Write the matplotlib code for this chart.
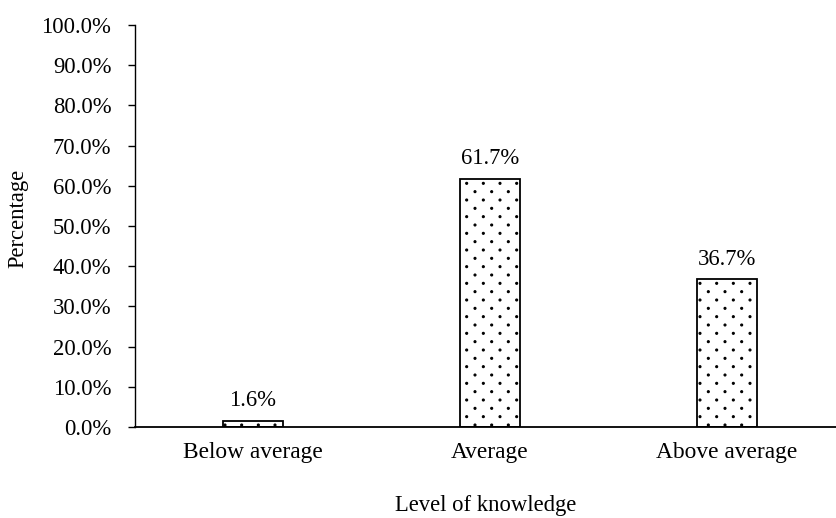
import matplotlib
matplotlib.use('Agg')
import matplotlib.pyplot as plt
import matplotlib.hatch as mhatch
import numpy as np

#- chart data
categories = ['Below average', 'Average', 'Above average']
percents = [1.6, 61.7, 36.7]
y_ticks = [0, 10, 20, 30, 40, 50, 60, 70, 80, 90, 100]


#- staggered dot fill like the original (rows at half spacing)
class DenseDots(mhatch.SmallFilledCircles):
    size = 0.06

    def __init__(self, hatch, density):
        super().__init__(hatch, density)
        n = self.num_rows
        if n:
            self.num_shapes = (n + 1) * (n + 1) + n * n
            self.num_vertices = self.num_shapes * len(self.shape_vertices)

    def set_vertices_and_codes(self, vertices, codes):
        n = self.num_rows
        offset = 1.0 / n
        sv = self.shape_vertices * offset * self.size
        sc = self.shape_codes
        nv = len(sv)
        cursor = 0
        for row in range(n + 1 + n):
            if row % 2 == 0:
                cols = np.linspace(0, 1, n + 1)
            else:
                cols = np.linspace(offset / 2, 1 - offset / 2, n)
            ypos = row * offset / 2
            for xpos in cols:
                vertices[cursor:cursor + nv] = sv + (xpos, ypos)
                codes[cursor:cursor + nv] = sc
                cursor += nv


mhatch._hatch_types[mhatch._hatch_types.index(mhatch.SmallFilledCircles)] = DenseDots

plt.rcParams['font.family'] = ['Liberation Serif', 'DejaVu Serif']
plt.rcParams['hatch.linewidth'] = 0.8
fs = 16.3

fig = plt.figure(figsize=(8.37, 5.18), dpi=100)
ax = fig.add_axes([0.1613, 0.1757, 0.8387, 0.776])

x = np.arange(len(categories))
ax.bar(x, percents, width=0.25, color='white', edgecolor='black',
       linewidth=1.3, hatch='.')

for xi, v in zip(x, percents):
    ax.text(xi, v + 2.4, '%.1f%%' % v, ha='center', va='bottom', fontsize=fs)

ax.set_xlim(-0.498, 2.464)
ax.set_ylim(0, 100)
ax.set_yticks(y_ticks)
ax.set_yticklabels(['%.1f%%' % t for t in y_ticks], fontsize=fs)
ax.set_xticks(x)
ax.set_xticklabels(categories, fontsize=16.8)
ax.tick_params(axis='x', length=0, pad=11)
ax.tick_params(axis='y', length=5, width=1, direction='out', pad=12)

ax.spines['top'].set_visible(False)
ax.spines['right'].set_visible(False)
ax.spines['left'].set_linewidth(1)
ax.spines['bottom'].set_linewidth(1.3)

ax.set_ylabel('Percentage', fontsize=fs)
ax.yaxis.set_label_coords(-0.152, 0.52)
ax.set_xlabel('Level of knowledge', fontsize=fs, labelpad=23)

fig.savefig('out.png', dpi=100)
